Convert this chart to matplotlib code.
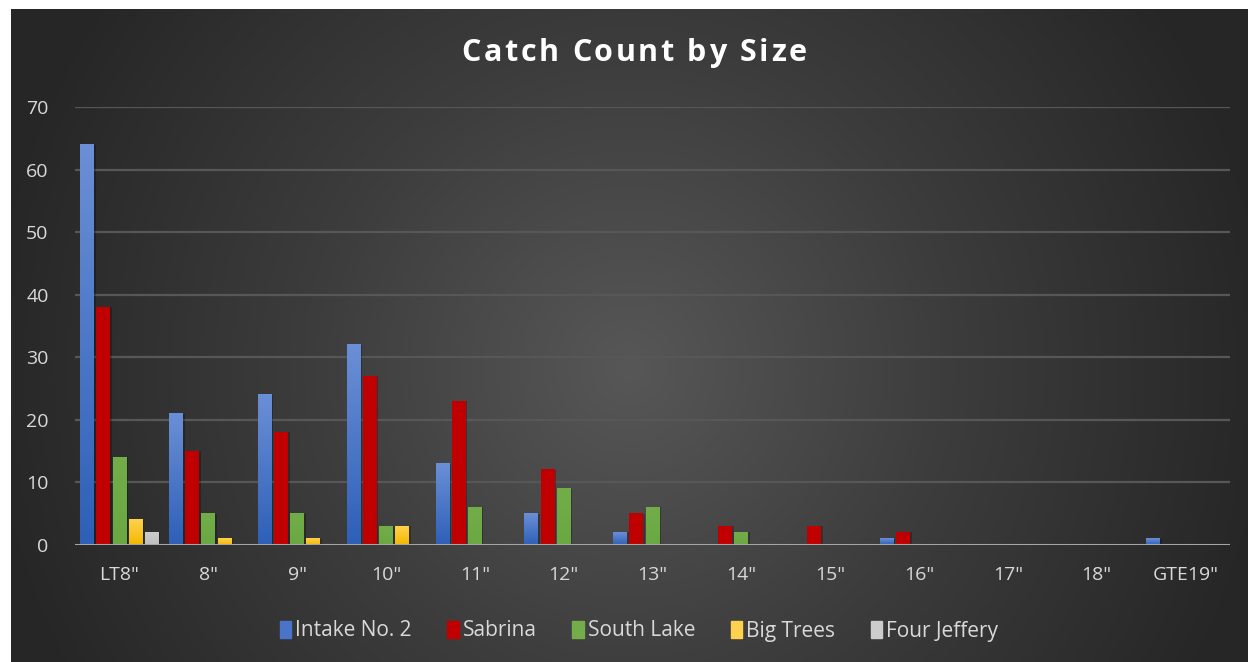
import matplotlib
matplotlib.use('Agg')
import matplotlib.pyplot as plt
import numpy as np
from matplotlib.colors import LinearSegmentedColormap
from matplotlib.patches import Rectangle

# data
sizes = ['LT8"', '8"', '9"', '10"', '11"', '12"', '13"', '14"', '15"', '16"', '17"', '18"', 'GTE19"']
intake = [64, 21, 24, 32, 13, 5, 2, 0, 0, 1, 0, 0, 1]
sabrina = [38, 15, 18, 27, 23, 12, 5, 3, 3, 2, 0, 0, 0]
south_lake = [14, 5, 5, 3, 6, 9, 6, 2, 0, 0, 0, 0, 0]
big_trees = [4, 1, 1, 3, 0, 0, 0, 0, 0, 0, 0, 0, 0]
four_jeffery = [2, 0, 0, 0, 0, 0, 0, 0, 0, 0, 0, 0, 0]

series = [('Intake No. 2', intake, '#6b8fd6', '#2e60b8'),
          ('Sabrina', sabrina, '#c00000', '#c00000'),
          ('South Lake', south_lake, '#72ad4a', '#6aa842'),
          ('Big Trees', big_trees, '#ffd24d', '#f5b800'),
          ('Four Jeffery', four_jeffery, '#cccccc', '#bfbfbf')]

plt.rcParams['font.family'] = ['Open Sans', 'DejaVu Sans']

fig = plt.figure(figsize=(12.48, 6.62), dpi=100)
fig.patch.set_facecolor('white')

# radial gradient background
bg = fig.add_axes([11 / 1248, 0, 1 - 11 / 1248, 1 - 9 / 662])
bg.set_axis_off()
yy, xx = np.mgrid[0:1:300j, 0:1:600j]
r = np.sqrt(((xx - 0.5) * 1.9) ** 2 + ((yy - 0.55) * 1.0) ** 2)
r = np.clip(r / 1.0, 0, 1)
bg_cmap = LinearSegmentedColormap.from_list('bg', ['#575757', '#3c3c3c', '#262626'])
bg.imshow(r, cmap=bg_cmap, aspect='auto', extent=[0, 1, 0, 1], vmin=0, vmax=1)
bg.set_xlim(0, 1)
bg.set_ylim(0, 1)

ax = fig.add_axes([75 / 1248, 1 - 545 / 662, 1155 / 1248, 438 / 662])
ax.patch.set_alpha(0)
x = np.arange(len(sizes))
step = 0.182
width = 0.155

handles = []
for i, (name, vals, top, bot) in enumerate(series):
    cm = LinearSegmentedColormap.from_list(name, [bot, top])
    xs = x + (i - 2) * step
    for xi, v in zip(xs, vals):
        if v <= 0:
            continue
        # soft shadow
        ax.add_patch(Rectangle((xi - width / 2 + 0.02, 0), width, v, color='black',
                               alpha=0.25, lw=0, zorder=2))
        grad = np.linspace(0, 1, 64).reshape(-1, 1)
        ax.imshow(grad, cmap=cm, origin='lower', aspect='auto',
                  extent=[xi - width / 2, xi + width / 2, 0, v], zorder=3)
    handles.append(Rectangle((0, 0), 1, 1, color=top if i != 0 else '#4a74c9', label=name))

ax.set_xlim(-0.5, len(sizes) - 0.5)
ax.set_ylim(0, 70)
ax.set_yticks(np.arange(0, 71, 10))
ax.set_xticks(x)
ax.set_xticklabels(sizes)
for s in ax.spines.values():
    s.set_visible(False)
ax.tick_params(length=0, colors='#d9d9d9', labelsize=14)
ax.tick_params(axis='x', pad=15)
ax.tick_params(axis='y', pad=19)
for yv in range(10, 71, 10):
    ax.axhline(yv, color='#575757', lw=1.6, zorder=1)
ax.axhline(0, color='#a6a6a6', lw=2.2, zorder=4)

# title with wide letter spacing
title = 'Catch Count by Size'
fig.canvas.draw()
renderer = fig.canvas.get_renderer()
tprops = dict(color='white', fontsize=22, fontweight='bold', va='center', ha='left')
spacing = 2.6
widths = []
for ch in title:
    t = fig.text(0, 0, ch if ch != ' ' else 'n', **tprops)
    w = t.get_window_extent(renderer).width
    if ch == ' ':
        w *= 0.4
    widths.append(w)
    t.remove()
total = sum(widths) + spacing * (len(title) - 1)
xpos = 634 - total / 2
for ch, w in zip(title, widths):
    if ch != ' ':
        fig.text(xpos / 1248, 1 - 53 / 662, ch, **tprops)
    xpos += w + spacing

fig.legend(handles=handles, loc='center', bbox_to_anchor=(0.512, 1 - 631 / 662), ncol=5,
           frameon=False, fontsize=15, labelcolor='#d9d9d9', handlelength=0.55,
           handleheight=0.85, handletextpad=0.2, columnspacing=1.7)

fig.savefig('out.png', dpi=100)
